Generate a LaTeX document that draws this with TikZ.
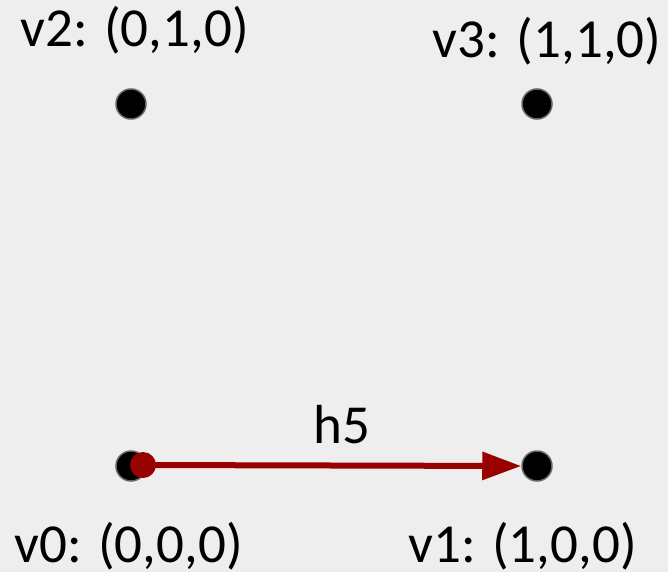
\documentclass[tikz,border=0pt]{standalone}
\usepackage{fontspec}
\setmainfont{Carlito}
\usetikzlibrary{arrows.meta}
\definecolor{bg}{HTML}{EEEEEE}
\definecolor{edgered}{HTML}{990000}
\begin{document}
\begin{tikzpicture}[x=1pt,y=-1pt,
  vtx/.style={circle,fill=black,draw=black!60,line width=1.5pt,minimum size=30pt,inner sep=0pt},
  lbl/.style={anchor=base,inner sep=0pt,font=\fontsize{55}{66}\selectfont},
  hedge/.style={draw=edgered,line width=6pt,-{Triangle[length=39pt,width=27pt]}}]
\fill[bg] (0,0) rectangle (668,572);
\useasboundingbox (0,0) rectangle (668,572);
\node[vtx] (v2) at (131,104) {};
\node[vtx] (v3) at (537,104) {};
\node[vtx] (v0) at (131,466) {};
\node[vtx] (v1) at (537,466) {};
\node[lbl] (l2) at (134.5,47) {v2: (0,1,0)};
\node[lbl] (l3) at (547,58) {v3: (1,1,0)};
\node[lbl] (l0) at (128.5,562) {v0: (0,0,0)};
\node[lbl] (l1) at (522.5,562) {v1: (1,0,0)};
\node[circle,fill=edgered,minimum size=26pt,inner sep=0pt] (s) at (143,465) {};
\draw[hedge] (s.center) -- (v1.west);
\node[lbl] (h5) at (342,443) {h5};
\end{tikzpicture}
\end{document}
